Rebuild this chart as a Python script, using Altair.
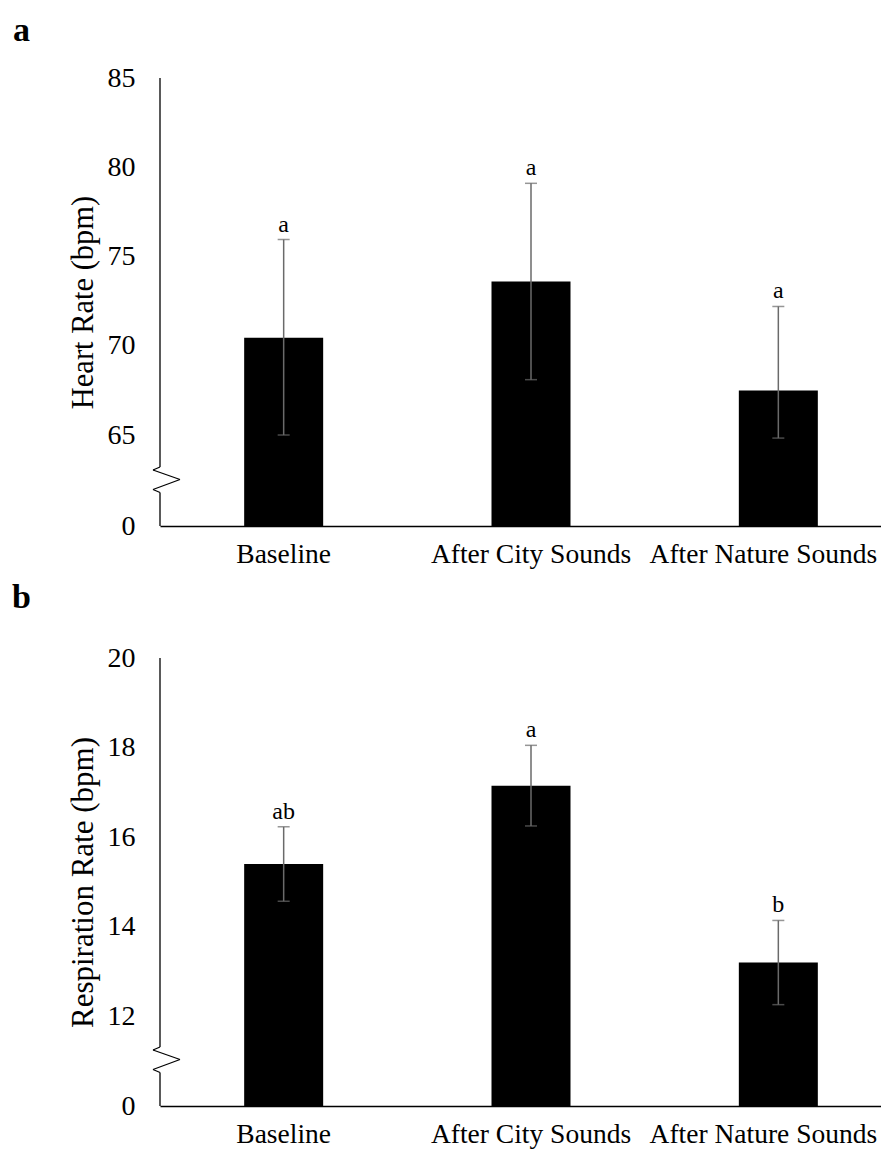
import altair as alt
import pandas as pd

# ---------------- data ----------------
conditions = ["Baseline", "After City Sounds", "After Nature Sounds"]

hr_mean = [70.45, 73.6, 67.5]
hr_err = [5.5, 5.5, 4.7]
hr_sig = ["a", "a", "a"]
hr_ticks = [0, 65, 70, 75, 80, 85]

rr_mean = [15.4, 17.15, 13.2]
rr_err = [0.83, 0.9, 0.94]
rr_sig = ["ab", "a", "b"]
rr_ticks = [0, 12, 14, 16, 18, 20]

FONT = "Liberation Serif"
W = 742
H = 448


def panel(means, errs, sigs, ticks, y_title, title_size, letter, gap_y, letter_dx, letter_y):
    df = pd.DataFrame({
        "cond": conditions,
        "mean": means,
        "lo": [m - e for m, e in zip(means, errs)],
        "hi": [m + e for m, e in zip(means, errs)],
        "sig": sigs,
    })
    # piecewise scale: 0 at the bottom, then a broken gap up to the first real tick
    y_scale = alt.Scale(domain=[0, ticks[1], ticks[-1]], range=[H, gap_y, 0],
                        nice=False, zero=False)
    y_axis = alt.Axis(values=ticks, title=y_title, domain=False, ticks=False, grid=False,
                      labelFont=FONT, labelFontSize=28, labelColor="black", labelPadding=25,
                      titleFont=FONT, titleFontSize=title_size, titleFontWeight="normal",
                      titleColor="black", titleAngle=270, titleBaseline="middle",
                      titleX=-77, titleY=H / 2)
    x_enc = alt.X("cond:N", sort=conditions,
                  scale=alt.Scale(paddingInner=0, paddingOuter=0),
                  axis=alt.Axis(title=None, labels=False, ticks=False, domainColor="black",
                                domainWidth=1.3, grid=False))

    base = alt.Chart(df).encode(x=x_enc)
    bars = base.mark_bar(size=79, color="black").encode(
        y=alt.Y("mean:Q", scale=y_scale, axis=y_axis),
        y2=alt.Y2(datum=0),
    )
    err = base.mark_rule(color="#6a6a6a", strokeWidth=1.5).encode(
        y=alt.Y("lo:Q", scale=y_scale, axis=y_axis), y2="hi:Q")
    cap_hi = base.mark_tick(color="#6a6a6a", size=12, thickness=1.5).encode(
        y=alt.Y("hi:Q", scale=y_scale, axis=y_axis))
    cap_lo = base.mark_tick(color="#6a6a6a", size=12, thickness=1.5).encode(
        y=alt.Y("lo:Q", scale=y_scale, axis=y_axis))
    letters = base.mark_text(font=FONT, fontSize=24, baseline="alphabetic", dy=-8,
                             color="black").encode(
        y=alt.Y("hi:Q", scale=y_scale, axis=y_axis), text="sig:N")

    # category labels under the x axis (last one nudged so it stays inside the page)
    cat_lab = base.mark_text(font=FONT, fontSize=27.5, baseline="middle",
                             color="black").encode(
        y=alt.value(H + 29), text="cond:N"
    ).transform_filter(alt.datum.cond != conditions[-1])
    cat_last = base.mark_text(font=FONT, fontSize=27.5, baseline="middle", dx=-15,
                              color="black").encode(
        y=alt.value(H + 29), text="cond:N"
    ).transform_filter(alt.datum.cond == conditions[-1])

    # broken y axis line with zigzag
    one = alt.Chart(pd.DataFrame({"k": [0]}))
    ax_col = "black"
    seg = []
    seg.append(one.mark_rule(color=ax_col, strokeWidth=1.3).encode(
        x=alt.value(0), y=alt.value(0), y2=alt.value(389)))
    seg.append(one.mark_rule(color=ax_col, strokeWidth=1.3).encode(
        x=alt.value(0), y=alt.value(414.5), y2=alt.value(H)))
    zz = [(0, 389), (-7, 392), (20, 401.5), (-7, 411.5), (0, 414.5)]
    for (x1, y1), (x2, y2) in zip(zz[:-1], zz[1:]):
        seg.append(one.mark_rule(color=ax_col, strokeWidth=1.3).encode(
            x=alt.value(x1), x2=alt.value(x2), y=alt.value(y1), y2=alt.value(y2)))

    # panel letter
    tag = one.mark_text(font=FONT, fontSize=34, fontWeight="bold", align="left",
                        baseline="alphabetic", color="black").encode(
        x=alt.value(letter_dx), y=alt.value(letter_y), text=alt.value(letter))

    layer = alt.layer(bars, err, cap_hi, cap_lo, letters, cat_lab, cat_last, *seg, tag).properties(
        width=W, height=H,
    )
    return layer


top = panel(hr_mean, hr_err, hr_sig, hr_ticks, "Heart Rate (bpm)", 30.5, "a", 357, -147, -37)
bottom = panel(rr_mean, rr_err, rr_sig, rr_ticks, "Respiration Rate (bpm)", 31, "b", 358.3, -148, -50)

chart = alt.vconcat(top, bottom, spacing=12).properties(
    padding={"left": 4, "top": 6, "right": -21, "bottom": 0},
    background="white",
).configure_view(strokeWidth=0, stroke="transparent")

chart.save("out.html", embed_options={"renderer": "svg", "actions": False})
